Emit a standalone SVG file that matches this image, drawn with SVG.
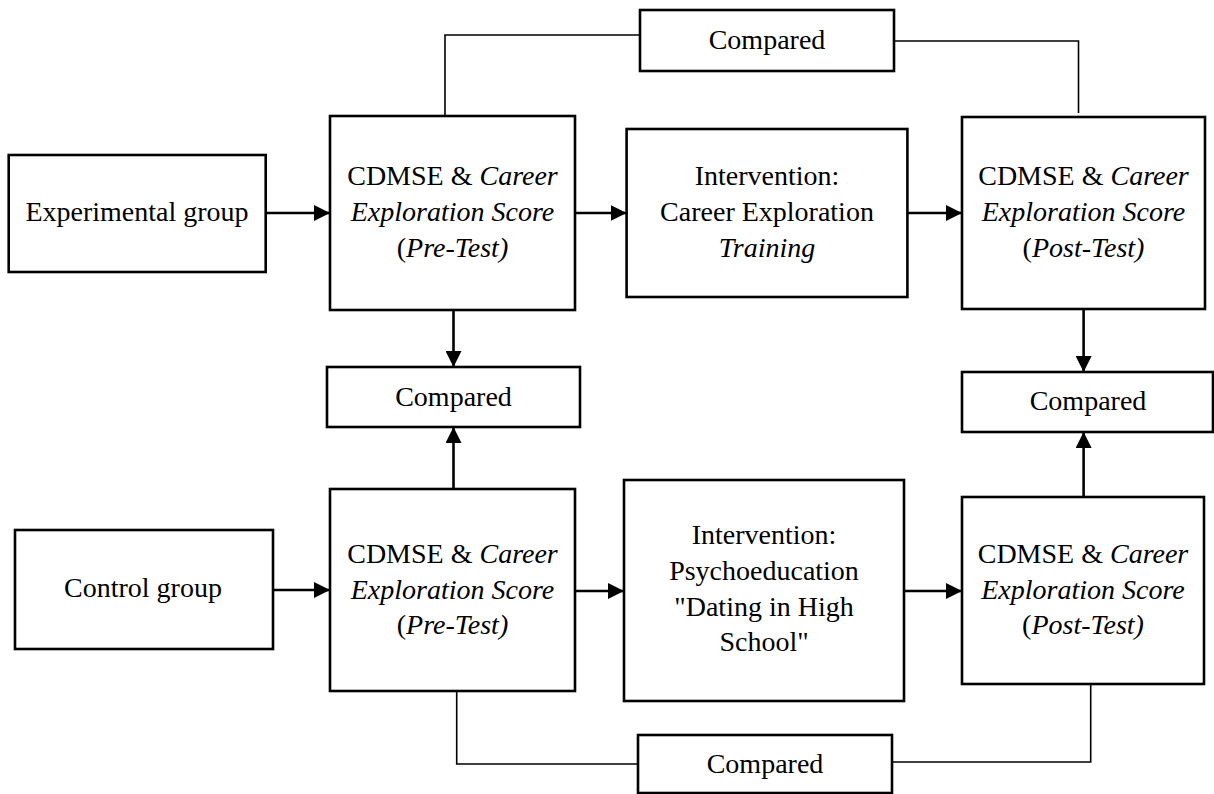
<svg xmlns="http://www.w3.org/2000/svg" width="1214" height="794" viewBox="0 0 1214 794">
<style>
.box{fill:#fff;stroke:#000;stroke-width:2.6}
.t{font-family:"Liberation Serif","Times New Roman",serif;font-size:28px;fill:#000;text-anchor:middle}
.i{font-style:italic}
.arr{fill:none;stroke:#000;stroke-width:2.6}
.thin{fill:none;stroke:#000;stroke-width:1.6}
</style>
<defs>
<marker id="ah" markerUnits="userSpaceOnUse" markerWidth="16" markerHeight="16" refX="16" refY="8" orient="auto" viewBox="0 0 16 16">
<path d="M0,0 L16,8 L0,16 z" fill="#000"/>
</marker>
</defs>
<g id="connectors">
<path class="arr" d="M266,213 H330" marker-end="url(#ah)"/>
<path class="arr" d="M575,213 H626.6" marker-end="url(#ah)"/>
<path class="arr" d="M907.4,213 H962" marker-end="url(#ah)"/>
<path class="arr" d="M453.5,310 V367" marker-end="url(#ah)"/>
<path class="arr" d="M1083.6,309 V372" marker-end="url(#ah)"/>
<path class="arr" d="M273,590 H330" marker-end="url(#ah)"/>
<path class="arr" d="M575,591 H624" marker-end="url(#ah)"/>
<path class="arr" d="M904,591 H962" marker-end="url(#ah)"/>
<path class="arr" d="M453.5,489 V427" marker-end="url(#ah)"/>
<path class="arr" d="M1083.6,497 V432" marker-end="url(#ah)"/>
<path class="thin" d="M445,116 V35 H640"/>
<path class="thin" d="M894,41 H1078.5 V113"/>
<path class="thin" d="M456.7,691 V764 H638"/>
<path class="thin" d="M892,762 H1090.7 V682"/>
</g>
<g id="exp">
<rect class="box" x="8.7" y="155" width="257" height="117"/>
<text class="t" x="137" y="221">Experimental group</text>
</g>
<g id="ctrl">
<rect class="box" x="15" y="530" width="258" height="119"/>
<text class="t" x="143" y="597">Control group</text>
</g>
<g id="pre1">
<rect class="box" x="330" y="116" width="245" height="194"/>
<text class="t" x="452.5" y="185">CDMSE &amp; <tspan class="i">Career</tspan></text>
<text class="t i" x="452.5" y="221">Exploration Score</text>
<text class="t" x="452.5" y="257">(<tspan class="i">Pre-Test)</tspan></text>
</g>
<g id="int1">
<rect class="box" x="626.6" y="129" width="280.8" height="168"/>
<text class="t" x="767" y="185">Intervention:</text>
<text class="t" x="767" y="221">Career Exploration</text>
<text class="t i" x="767" y="257">Training</text>
</g>
<g id="post1">
<rect class="box" x="962" y="117" width="243" height="192"/>
<text class="t" x="1083.5" y="185">CDMSE &amp; <tspan class="i">Career</tspan></text>
<text class="t i" x="1083.5" y="221">Exploration Score</text>
<text class="t" x="1083.5" y="257">(<tspan class="i">Post-Test)</tspan></text>
</g>
<g id="cmpTop">
<rect class="box" x="640" y="10" width="254" height="61"/>
<text class="t" x="767" y="49">Compared</text>
</g>
<g id="cmpLeft">
<rect class="box" x="327" y="367" width="253" height="60"/>
<text class="t" x="453.5" y="406">Compared</text>
</g>
<g id="cmpRight">
<rect class="box" x="962" y="372" width="251" height="60"/>
<text class="t" x="1088" y="410">Compared</text>
</g>
<g id="pre2">
<rect class="box" x="330" y="489" width="245" height="202"/>
<text class="t" x="452.5" y="563">CDMSE &amp; <tspan class="i">Career</tspan></text>
<text class="t i" x="452.5" y="598.5">Exploration Score</text>
<text class="t" x="452.5" y="634">(<tspan class="i">Pre-Test)</tspan></text>
</g>
<g id="int2">
<rect class="box" x="624" y="480" width="280" height="221"/>
<text class="t" x="764" y="544">Intervention:</text>
<text class="t" x="764" y="580">Psychoeducation</text>
<text class="t" x="764" y="616">"Dating in High</text>
<text class="t" x="764" y="651">School"</text>
</g>
<g id="post2">
<rect class="box" x="962" y="497" width="242" height="187"/>
<text class="t" x="1083" y="563">CDMSE &amp; <tspan class="i">Career</tspan></text>
<text class="t i" x="1083" y="598.5">Exploration Score</text>
<text class="t" x="1083" y="634">(<tspan class="i">Post-Test)</tspan></text>
</g>
<g id="cmpBottom">
<rect class="box" x="638" y="735" width="254" height="58"/>
<text class="t" x="765" y="773">Compared</text>
</g>
</svg>
